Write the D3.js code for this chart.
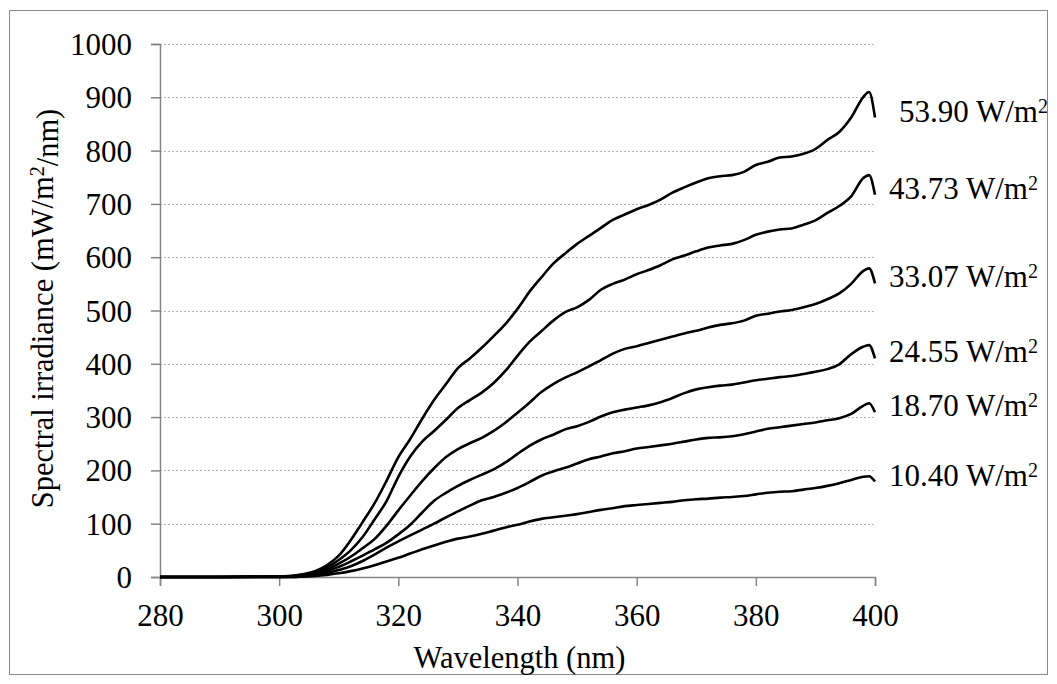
<!DOCTYPE html>
<html>
<head>
<meta charset="utf-8">
<script src="https://cdn.jsdelivr.net/npm/d3@7"></script>
<style>
  body { margin: 0; background: #fff; }
  svg text { font-family: "Liberation Serif", "Times New Roman", serif; fill: #000; }
</style>
</head>
<body>
<div id="chart"></div>
<script>
// wavelength grid (nm)
var wavelengths = [280, 290, 300, 302, 304, 306, 308, 310, 312, 314, 316, 318,
  320, 322, 324, 326, 328, 330, 332, 334, 336, 338, 340, 342, 344, 346, 348,
  350, 352, 354, 356, 358, 360, 362, 364, 366, 368, 370, 372, 374, 376, 378,
  380, 382, 384, 386, 388, 390, 392, 394, 396, 398, 399, 400];

// spectral irradiance, mW/m2/nm
var s5390 = [0, 0, 1, 2, 5, 11, 22, 40, 69, 103, 138, 180,
  225, 259, 297, 332, 362, 392, 410, 430, 452, 475, 503, 535, 562, 588, 607,
  625, 640, 655, 670, 680, 690, 698, 708, 721, 731, 740, 748, 752, 754, 760,
  773, 779, 787, 789, 794, 803, 820, 835, 862, 900, 910, 862];
var s4373 = [0, 0, 1, 2, 4, 9, 18, 32, 50, 75, 108, 142,
  188, 226, 254, 274, 295, 317, 332, 346, 364, 387, 415, 441, 461, 481, 497,
  506, 520, 539, 550, 558, 568, 576, 585, 596, 603, 611, 618, 622, 625, 632,
  642, 648, 652, 654, 661, 669, 683, 696, 714, 748, 754, 717];
var s3307 = [0, 0, 1, 1, 3, 7, 14, 25, 38, 54, 71, 96,
  125, 153, 180, 204, 225, 240, 251, 261, 274, 290, 308, 327, 347, 362, 374,
  384, 395, 407, 419, 428, 433, 439, 445, 451, 457, 462, 468, 473, 476, 481,
  490, 494, 498, 501, 506, 512, 521, 532, 550, 574, 579, 551];
var s2455 = [0, 0, 0, 1, 2, 5, 11, 19, 29, 40, 52, 64,
  80, 98, 121, 143, 158, 171, 182, 192, 202, 215, 231, 246, 258, 267, 277,
  283, 291, 301, 309, 314, 318, 322, 328, 336, 345, 352, 356, 359, 361, 365,
  369, 372, 375, 377, 381, 385, 390, 399, 418, 432, 435, 410];
var s1870 = [0, 0, 0, 0, 1, 3, 7, 13, 20, 30, 42, 55,
  67, 78, 89, 100, 112, 123, 134, 144, 150, 158, 167, 178, 190, 198, 205,
  213, 221, 226, 232, 236, 241, 244, 247, 250, 254, 258, 261, 262, 264, 268,
  273, 278, 281, 284, 287, 290, 294, 298, 306, 321, 326, 309];
var s1040 = [0, 0, 0, 0, 1, 2, 4, 7, 11, 16, 22, 29,
  36, 44, 52, 59, 66, 72, 76, 81, 87, 93, 98, 104, 109, 112, 115,
  118, 122, 126, 129, 133, 135, 137, 139, 141, 144, 146, 147, 149, 150, 152,
  155, 158, 160, 161, 164, 167, 171, 176, 182, 188, 189, 179];

var seriesList = [s5390, s4373, s3307, s2455, s1870, s1040];
var seriesLabels = ["53.90", "43.73", "33.07", "24.55", "18.70", "10.40"];

var xTicks = [280, 300, 320, 340, 360, 380, 400];
var yTicks = [0, 100, 200, 300, 400, 500, 600, 700, 800, 900, 1000];

var serif = "'Liberation Serif', 'Times New Roman', serif";
var width = 1057, height = 684;
var plot = {left: 160, right: 875, top: 44, bottom: 577};

var svg = d3.select("#chart").append("svg")
  .attr("width", width)
  .attr("height", height)
  .attr("font-family", serif);

// outer chart border
svg.append("rect")
  .attr("x", 9.5).attr("y", 10.5)
  .attr("width", 1038).attr("height", 664)
  .attr("fill", "#fff")
  .attr("stroke", "#8c8c8c")
  .attr("stroke-width", 1);

var x = d3.scaleLinear().domain([280, 400]).range([plot.left, plot.right]);
var y = d3.scaleLinear().domain([0, 1000]).range([plot.bottom, plot.top]);

// gridlines
svg.append("g")
  .selectAll("line")
  .data(yTicks.filter(function(d){ return d > 0; }))
  .enter()
  .append("line")
    .attr("x1", plot.left).attr("x2", plot.right)
    .attr("y1", function(d){ return Math.round(y(d)) + 0.5; })
    .attr("y2", function(d){ return Math.round(y(d)) + 0.5; })
    .attr("stroke", "#b4b4b4")
    .attr("stroke-width", 1.2)
    .attr("stroke-dasharray", "2,2");

// axes
var yAxis = d3.axisLeft(y).tickValues(yTicks).tickFormat(d3.format("d"))
  .tickSize(9).tickPadding(19);
var xAxis = d3.axisBottom(x).tickValues(xTicks).tickFormat(d3.format("d"))
  .tickSize(9).tickPadding(18);

var gy = svg.append("g")
  .attr("transform", "translate(" + plot.left + ",0)")
  .call(yAxis);
var gx = svg.append("g")
  .attr("transform", "translate(0," + plot.bottom + ")")
  .call(xAxis);

[gx, gy].forEach(function(g){
  g.attr("font-family", serif).attr("font-size", 31);
  g.select(".domain").attr("stroke", "#868686").attr("stroke-width", 1.5);
  g.selectAll(".tick line").attr("stroke", "#868686").attr("stroke-width", 1.5);
  g.selectAll(".tick text").attr("fill", "#000");
});
gy.selectAll(".tick text").attr("dy", "0.34em");
gx.selectAll(".tick text").attr("dy", "0.71em");

// curves
var line = d3.line()
  .x(function(d, i){ return x(wavelengths[i]); })
  .y(function(d){ return y(d); })
  .curve(d3.curveMonotoneX);

svg.append("g")
  .selectAll("path")
  .data(seriesList)
  .enter()
  .append("path")
    .attr("d", line)
    .attr("fill", "none")
    .attr("stroke", "#000")
    .attr("stroke-width", 2.6)
    .attr("stroke-linejoin", "round");

// end labels
var labels = svg.append("g")
  .attr("font-size", 31)
  .selectAll("text")
  .data(seriesList)
  .enter()
  .append("text")
    .attr("x", function(d, i){ return x(400) + (i === 0 ? 24 : 14); })
    .attr("y", function(d){ return y(d[d.length - 1]) + 4; });
labels.append("tspan").text(function(d, i){ return seriesLabels[i] + " W/m"; });
labels.append("tspan")
  .attr("dy", "-0.45em")
  .attr("font-size", 20)
  .text("2");

// axis titles
svg.append("text")
  .attr("x", (plot.left + plot.right) / 2 + 2)
  .attr("y", 668)
  .attr("text-anchor", "middle")
  .attr("font-size", 30.5)
  .text("Wavelength (nm)");

var yt = svg.append("text")
  .attr("transform", "translate(53," + ((plot.top + plot.bottom) / 2 - 2) + ") rotate(-90)")
  .attr("text-anchor", "middle")
  .attr("font-size", 30.5);
yt.append("tspan").text("Spectral irradiance (mW/m");
yt.append("tspan").attr("dy", "-0.45em").attr("font-size", 20).text("2");
yt.append("tspan").attr("dy", "0.45em").text("/nm)");
</script>
</body>
</html>
